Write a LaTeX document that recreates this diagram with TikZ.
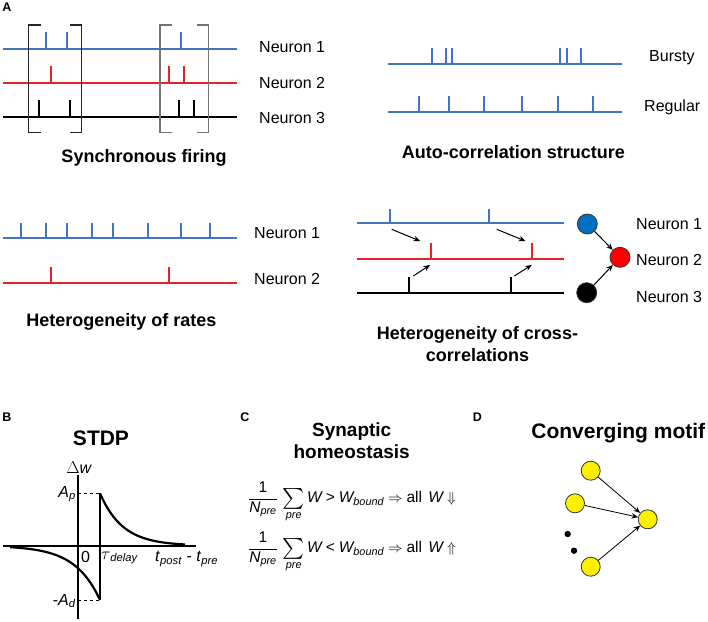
\documentclass[tikz,border=0pt]{standalone}
\usepackage{amsmath}
\usepackage{graphicx}
\usepackage{fontspec}
\setmainfont{Liberation Sans}
\usetikzlibrary{arrows.meta}
\definecolor{tblue}{RGB}{68,114,196}
\definecolor{tred}{RGB}{232,34,40}
\definecolor{cblue}{RGB}{0,112,192}
\definecolor{cred}{RGB}{255,0,0}
\definecolor{cyel}{RGB}{255,240,0}
\newcommand{\bigsum}{\mathop{\vcenter{\hbox{\scalebox{1.45}{$\textstyle\sum$}}}}\limits}
\newcommand{\eqrel}[1]{\mathrel{\text{#1}}}
\begin{document}
\begin{tikzpicture}[x=1pt,y=-1pt,
  trace/.style={line width=2.2pt},
  lab/.style={font=\fontsize{16}{19}\selectfont, inner sep=0pt, anchor=west},
  ttl/.style={font=\bfseries\fontsize{18}{22}\selectfont, inner sep=0pt, align=center},
  bigttl/.style={font=\bfseries\fontsize{21}{25}\selectfont, inner sep=0pt, align=center},
  plab/.style={font=\bfseries\fontsize{12.5}{14}\selectfont, inner sep=0pt},
  brk/.style={line width=1.1pt},
  sarrow/.style={line width=1pt, -{Stealth[length=6.5pt,width=5.5pt]}},
  cell/.style={circle, draw=black!80, line width=0.8pt, minimum size=20pt, inner sep=0pt},
  ycell/.style={circle, draw=black!80, fill=cyel, line width=0.8pt, minimum size=19pt, inner sep=0pt},
  ax/.style={line width=2pt},
  mlab/.style={font=\fontsize{16}{19}\selectfont, inner sep=0pt},
  eqn/.style={inner sep=0pt, font=\fontsize{15.5}{18}\selectfont}
]
\useasboundingbox (0,0) rectangle (708,621);

% ---------- Panel A ----------
\node[plab] (lA) at (7,7.5) {A};

% Synchronous firing
\draw[trace,tblue] (3,49.3) -- (237,49.3);
\draw[trace,tred] (3,83.3) -- (237,83.3);
\draw[trace,black] (3,117) -- (237,117);
\foreach \x in {46,66.7,181} \draw[trace,tblue] (\x,49.3) -- ++(0,-17);
\foreach \x in {51,168.7,184} \draw[trace,tred] (\x,83.3) -- ++(0,-17);
\foreach \x in {39,70,179,194.3} \draw[trace,black] (\x,117) -- ++(0,-17);
\draw[brk,black!85] (40.5,25) -- (28.3,25) -- (28.3,132.3) -- (40.5,132.3);
\draw[brk,black!85] (70,25) -- (81.7,25) -- (81.7,132.3) -- (70,132.3);
\draw[brk,black!55] (172,25) -- (160,25) -- (160,132.3) -- (172,132.3);
\draw[brk,black!55] (196.5,25) -- (208.3,25) -- (208.3,132.3) -- (196.5,132.3);
\node[lab] (s1) at (259,46.7) {Neuron 1};
\node[lab] (s2) at (259,82.7) {Neuron 2};
\node[lab] (s3) at (259,118) {Neuron 3};
\node[ttl] (tsync) at (144,158) {Synchronous firing};

% Auto-correlation structure
\draw[trace,tblue] (388.3,64.3) -- (622.3,64.3);
\draw[trace,tblue] (388.3,111.7) -- (622.3,111.7);
\foreach \x in {431.7,446,452.3,560,567.3,580.7} \draw[trace,tblue] (\x,64.3) -- ++(0,-16.5);
\foreach \x in {419.3,449,484,521.7,557.7,593.3} \draw[trace,tblue] (\x,111.7) -- ++(0,-16);
\node[lab] (bur) at (649,57.3) {Bursty};
\node[lab] (reg) at (644,107.3) {Regular};
\node[ttl] (tauto) at (513.3,151.7) {Auto-correlation structure};

% Heterogeneity of rates
\draw[trace,tblue] (3,238.3) -- (237,238.3);
\draw[trace,tred] (3,283.3) -- (237,283.3);
\foreach \x in {21,45.7,66.7,92.3,112.7,148,181,210} \draw[trace,tblue] (\x,238.3) -- ++(0,-15.6);
\foreach \x in {51,169.3} \draw[trace,tred] (\x,283.3) -- ++(0,-16.6);
\node[lab] (r1) at (254,233.3) {Neuron 1};
\node[lab] (r2) at (254,279.3) {Neuron 2};
\node[ttl] (trates) at (121.3,321.7) {Heterogeneity of rates};

% Heterogeneity of cross-correlations
\draw[trace,tblue] (357,223.3) -- (564,223.3);
\draw[trace,tred] (357,259.3) -- (564,259.3);
\draw[trace,black] (357,293.3) -- (564,293.3);
\foreach \x in {390,489.3} \draw[trace,tblue] (\x,223.3) -- ++(0,-14.3);
\foreach \x in {431,531.7} \draw[trace,tred] (\x,259.3) -- ++(0,-16);
\foreach \x in {409.3,511} \draw[trace,black] (\x,293.3) -- ++(0,-16.6);
\coordinate (a1s) at (391.7,229.3); \coordinate (a1e) at (420,241);
\coordinate (a2s) at (496.7,229.3); \coordinate (a2e) at (525.3,241);
\coordinate (a3s) at (413.3,276);   \coordinate (a3e) at (430,265);
\coordinate (a4s) at (514.3,276);   \coordinate (a4e) at (531.7,265);
\draw[sarrow] (a1s) -- (a1e);
\draw[sarrow] (a2s) -- (a2e);
\draw[sarrow] (a3s) -- (a3e);
\draw[sarrow] (a4s) -- (a4e);
\node[cell,fill=cblue] (c1) at (587.3,224) {};
\node[cell,fill=cred] (c2) at (620,257.3) {};
\node[cell,fill=black] (c3) at (586.7,292.7) {};
\draw[sarrow] (c1) -- (c2);
\draw[sarrow] (c3) -- (c2);
\node[lab] (x1) at (636,224.3) {Neuron 1};
\node[lab] (x2) at (636,260) {Neuron 2};
\node[lab] (x3) at (636,296.7) {Neuron 3};
\node[ttl] (tcross) at (477.5,344) {Heterogeneity of cross-\\correlations};

% ---------- Panel B ----------
\node[plab] (lB) at (7,417.5) {B};
\node[bigttl] (tstdp) at (101,438.3) {STDP};
\coordinate (vT) at (78.3,475); \coordinate (vB) at (78.3,619.3);
\coordinate (hL) at (3,545.7);  \coordinate (hR) at (196,545.7);
\draw[ax] (vT) -- (vB);
\draw[ax] (hL) -- (hR);
\coordinate (pA) at (100,493.3); \coordinate (pD) at (100,600);
\draw[dashed, line width=0.9pt] (78.3,493.3) -- (pA);
\draw[dashed, line width=0.9pt] (78.3,600) -- (pD);
\draw[line width=1.5pt] (pA) -- (pD);
\draw[line width=2.2pt, domain=100:185, samples=60, smooth] plot (\x, {545.7-52.4*exp(-(\x-100)/22.7)});
\draw[line width=2.2pt, domain=100:10, samples=60, smooth] plot (\x, {545.7+54.3*exp((\x-100)/25)});
\node[mlab] (dw) at (79.2,467.3) {$\Delta$\textit{w}};
\node[mlab, anchor=east] (lAp) at (76,494) {\textit{A}\textsubscript{\textit{p}}};
\node[mlab, anchor=east] (lAd) at (76,601) {-\textit{A}\textsubscript{\textit{d}}};
\node[mlab] (zero) at (85.5,556.7) {0};
\node[mlab, anchor=west] (tau) at (101,558) {$\tau$\textsubscript{\textit{delay}}};
\node[mlab, anchor=west] (tpp) at (155,559) {\textit{t}\textsubscript{\textit{post}} - \textit{t}\textsubscript{\textit{pre}}};

% ---------- Panel C ----------
\node[plab] (lC) at (245,417.3) {C};
\node[ttl, font=\bfseries\fontsize{19}{22.5}\selectfont] (tsyn) at (351.7,440.5) {Synaptic\\homeostasis};
\node[eqn] (eq1) at (352,502)
  {$\displaystyle\frac{\text{1}}{\textit{N}_{\textit{pre}}}\,\bigsum_{\textit{pre}}\textit{W}\eqrel{>}\textit{W}_{\textit{bound}}\Rightarrow\text{all}\;\,\textit{W}\Downarrow$};
\node[eqn] (eq2) at (352,552)
  {$\displaystyle\frac{\text{1}}{\textit{N}_{\textit{pre}}}\,\bigsum_{\textit{pre}}\textit{W}\eqrel{<}\textit{W}_{\textit{bound}}\Rightarrow\text{all}\;\,\textit{W}\Uparrow$};

% ---------- Panel D ----------
\node[plab] (lD) at (477.3,417.3) {D};
\node[bigttl] (tconv) at (618.3,433.3) {Converging motif};
\node[ycell] (d1) at (590.7,470.7) {};
\node[ycell] (d2) at (575,503.3) {};
\node[ycell] (d4) at (590.7,566.7) {};
\node[ycell] (dt) at (647.7,519.3) {};
\fill (567.7,534) circle (3.2pt);
\fill (574,550.7) circle (3.2pt);
\draw[sarrow, line width=0.8pt] (d1) -- (dt);
\draw[sarrow, line width=0.8pt] (d2) -- (dt);
\draw[sarrow, line width=0.8pt] (d4) -- (dt);
\end{tikzpicture}
\end{document}
